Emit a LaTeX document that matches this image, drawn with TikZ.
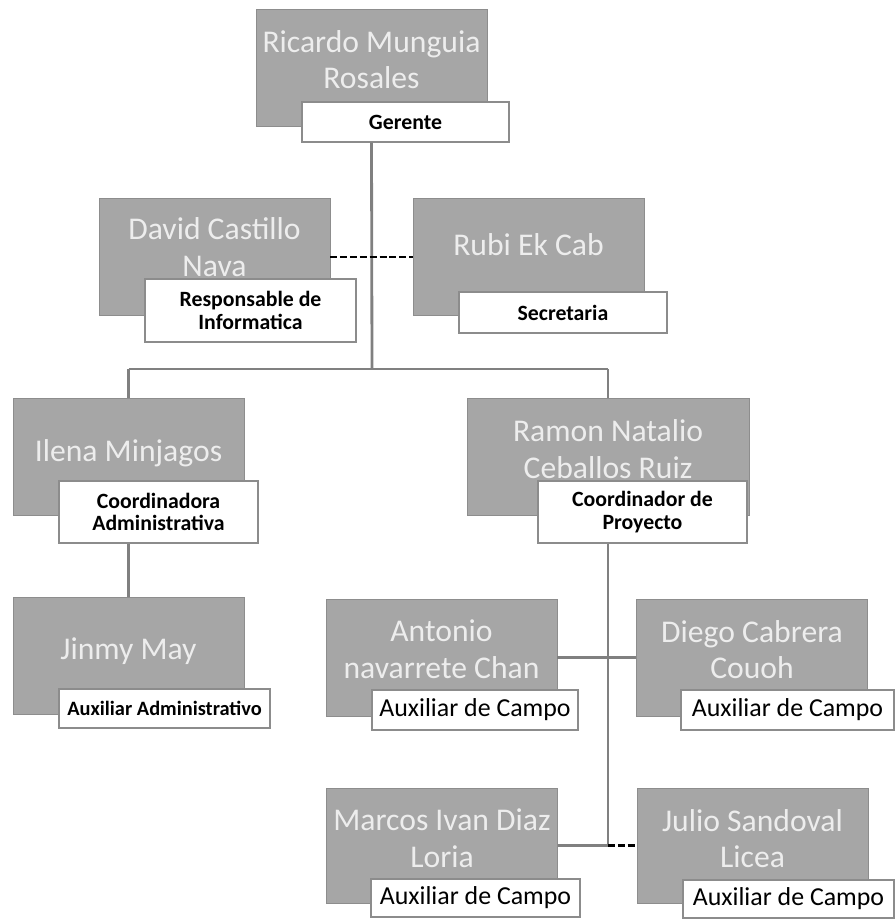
\documentclass[tikz,border=0pt]{standalone}
\usepackage{fontspec}
\setmainfont{Carlito}
\usepackage{tikz}
\usetikzlibrary{positioning, calc}
\definecolor{boxgray}{HTML}{A6A6A6}
\definecolor{namegray}{HTML}{EDEDED}
\definecolor{linegray}{HTML}{808080}
\definecolor{edgegray}{HTML}{8C8C8C}

\begin{document}
\begin{tikzpicture}[x=0.025cm, y=-0.025cm,
    person/.style={fill=boxgray, draw=boxgray!85!black, line width=0.4pt,
        minimum width=5.775cm, minimum height=2.925cm, inner sep=0pt},
    nametext/.style={inner sep=0pt, align=center, text=namegray,
        font=\fontsize{22.5}{26}\selectfont},
    role/.style={fill=white, draw=edgegray, line width=1pt, inner sep=0pt,
        align=center, font=\bfseries\fontsize{15.5}{16}\selectfont},
    campo/.style={role, font=\fontsize{18.4}{20}\selectfont},
    link/.style={draw=linegray, line width=2pt},
    dashlink/.style={draw=black, line width=1.6pt, dash pattern=on 5pt off 2pt}]
    \useasboundingbox (0,0) rectangle (895,920);

    % gerente
    \node[person] (ricardo) at (371.5,67.5) {};
    \node[nametext] (ricardoname) at ($(ricardo)+(0,-8)$) {Ricardo Munguia\\Rosales};
    \node[role, minimum width=5.175cm, minimum height=1cm] (gerente) at (405.5,122) {Gerente};

    % staff
    \node[person] (david) at (214.5,257) {};
    \node[nametext] (davidname) at ($(david)+(0,-10)$) {David Castillo\\Nava};
    \node[role, minimum width=5.275cm, minimum height=1.575cm] (informatica) at (250.5,310.5) {Responsable de\\Informatica};
    \node[person] (rubi) at (528.5,257) {};
    \node[nametext] (rubiname) at ($(rubi)+(0,-12)$) {Rubi Ek Cab};
    \node[role, minimum width=5.2cm, minimum height=1.025cm] (secretaria) at (563,312.5) {Secretaria};

    % coordinadores
    \node[person] (ilena) at (128.5,457) {};
    \node[nametext] (ilenaname) at ($(ilena)+(0,-4)$) {Ilena Minjagos};
    \node[role, minimum width=4.975cm, minimum height=1.55cm] (coordadm) at (158.5,512) {Coordinadora\\Administrativa};
    \node[person, minimum width=7.05cm] (ramon) at (608,457) {};
    \node[nametext] (ramonname) at ($(ramon)+(0,-8)$) {Ramon Natalio\\Ceballos Ruiz};
    \node[role, minimum width=5.225cm, minimum height=1.55cm] (coordproy) at (642.5,512) {Coordinador de\\Proyecto};

    % auxiliares
    \node[person] (jinmy) at (128.5,655.5) {};
    \node[nametext] (jinmyname) at ($(jinmy)+(0,-4)$) {Jinmy May};
    \node[role, minimum width=5.275cm, minimum height=0.975cm, font=\bfseries\fontsize{14.5}{16}\selectfont] (auxadm) at (164.5,708.5) {Auxiliar Administrativo};
    \node[person] (antonio) at (441.5,657.5) {};
    \node[nametext] (antonioname) at ($(antonio)+(0,-8)$) {Antonio\\navarrete Chan};
    \node[campo, minimum width=5.15cm, minimum height=1cm] (campoa) at (475,710) {Auxiliar de Campo};
    \node[person] (diego) at (752,657.5) {};
    \node[nametext] (diegoname) at ($(diego)+(0,-8)$) {Diego Cabrera\\Couoh};
    \node[campo, minimum width=5.325cm, minimum height=1cm] (campob) at (787.5,710) {Auxiliar de Campo};
    \node[person, minimum height=2.875cm] (marcos) at (442,845.5) {};
    \node[nametext] (marcosname) at ($(marcos)+(0,-7)$) {Marcos Ivan Diaz\\Loria};
    \node[campo, minimum width=5.225cm, minimum height=0.95cm] (campoc) at (475.5,898) {Auxiliar de Campo};
    \node[person, minimum height=2.875cm] (julio) at (752.5,845.5) {};
    \node[nametext] (julioname) at ($(julio)+(0,-7)$) {Julio Sandoval\\Licea};
    \node[campo, minimum width=5.275cm, minimum height=0.95cm] (campod) at (788.5,899) {Auxiliar de Campo};

    % connectors
    \coordinate (hub) at (372,369);
    \coordinate (lefthub) at (128.5,369);
    \coordinate (righthub) at (608,369);
    \coordinate (lowhub) at (608,845.5);
    \draw[link] (ricardo.center |- gerente.south) -- (hub);
    \draw[link] (lefthub) -- (righthub);
    \draw[link] (lefthub) -- (ilena.north);
    \draw[link] (righthub) -- (ramon.north);
    \draw[dashlink] (david.east) -- (rubi.west);
    \draw[link] (ilena.center |- coordadm.south) -- (jinmy.north);
    \draw[link] (ramon.center |- coordproy.south) -- (lowhub);
    \draw[link] (antonio.east) -- (diego.west);
    \draw[link] (marcos.east) -- (lowhub);
    \draw[dashlink] (lowhub) -- (julio.west);
\end{tikzpicture}
\end{document}
